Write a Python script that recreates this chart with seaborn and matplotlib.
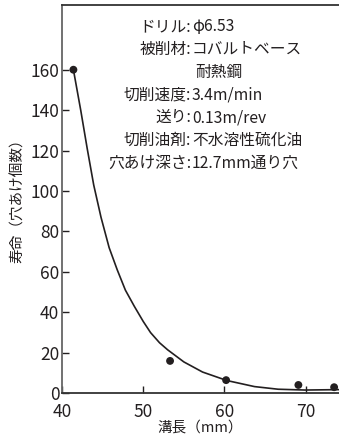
import matplotlib
matplotlib.use("Agg")
import matplotlib.pyplot as plt
import seaborn as sns
import pandas as pd

# ---- データ ----
point_x = [41.4, 53.3, 60.2, 69.1, 73.5]
point_y = [160, 16, 6.5, 4.1, 3.0]

# 近似曲線
curve_x = [41.4, 42.3, 43.1, 43.9, 44.8, 45.8, 46.8, 47.8, 48.9, 50.0,
           50.9, 52.0, 53.0, 55.0, 57.3, 60.3, 63.7, 66.6, 69.9, 74.1]
curve_y = [160, 140, 121, 103, 87, 72, 61, 51, 43, 35.5,
           30, 25, 21.5, 15.5, 10.5, 6.3, 3.3, 2.0, 1.6, 1.8]

x_ticks = [40, 50, 60, 70]
y_ticks = [0, 20, 40, 60, 80, 100, 120, 140, 160]

cond_labels = ["ドリル:", "被削材:", "", "切削速度:", "送り:", "切削油剤:", "穴あけ深さ:"]
cond_values = ["φ6.53", "コバルトベース", "耐熱鋼", "3.4m/min", "0.13m/rev", "不水溶性硫化油", "12.7mm通り穴"]

TEXT_COLOR = "#231f20"

sns.set_style("ticks")
plt.rcParams["font.family"] = ["Noto Sans CJK JP", "DejaVu Sans"]

fig = plt.figure(figsize=(3.39, 4.36), dpi=100)
ax = fig.add_axes([0.183, 0.098, 0.817, 0.8905])

pts = pd.DataFrame({"x": point_x, "y": point_y})
crv = pd.DataFrame({"x": curve_x, "y": curve_y})

sns.lineplot(data=crv, x="x", y="y", color=TEXT_COLOR, linewidth=1.2, ax=ax, sort=False)
sns.scatterplot(data=pts, x="x", y="y", color=TEXT_COLOR, s=32, edgecolor="none", ax=ax, zorder=3)

ax.set_xlim(40.0, 74.1)
ax.set_ylim(0, 192)
ax.set_xticks(x_ticks)
ax.set_yticks(y_ticks)
ax.tick_params(direction="in", length=5, width=1, labelsize=12.5, colors=TEXT_COLOR)
ax.tick_params(axis="x", pad=7)
ax.tick_params(axis="y", pad=2)

ax.spines["left"].set_color("#666666")
ax.spines["bottom"].set_color("#333333")
ax.spines["top"].set_color("#333333")
for side in ["left", "bottom", "top"]:
    ax.spines[side].set_linewidth(1.3)
ax.spines["right"].set_visible(False)

ax.set_xlabel("溝長（mm）", fontsize=10.5, color=TEXT_COLOR)
ax.set_ylabel("寿命（穴あけ個数）", fontsize=10.5, color=TEXT_COLOR)
ax.xaxis.set_label_coords(0.5, -0.07)
ax.yaxis.set_label_coords(-0.135, 0.505)

# 条件テキスト
row_y = [26.7, 49.5, 72, 95, 117.5, 140.5, 163.3]
for lab, val, yy in zip(cond_labels, cond_values, row_y):
    fy = 1 - yy / 436
    fig.text(191 / 339, fy, lab, ha="right", va="center", fontsize=11.3, color=TEXT_COLOR)
    dx = 195 if lab == "" else 192
    fig.text(dx / 339, fy, val, ha="left", va="center", fontsize=11.3, color=TEXT_COLOR)

fig.savefig("out.png", dpi=100)
